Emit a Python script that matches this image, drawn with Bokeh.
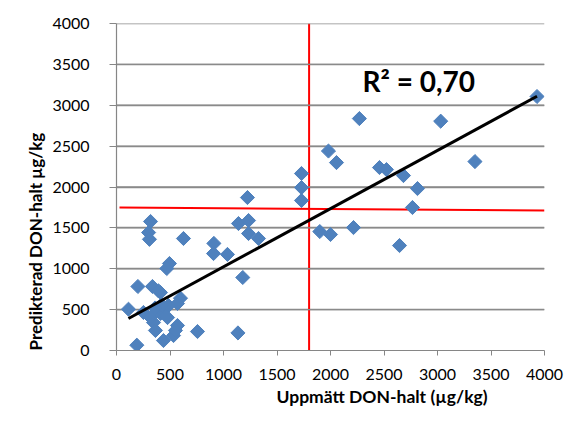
import math
from bokeh.plotting import figure
from bokeh.models import Range1d, Label, FixedTicker, ColumnDataSource, Title
from bokeh.embed import file_html
from bokeh.resources import INLINE

# Measured (x) vs predicted (y) DON content, µg/kg
measured = [112, 190, 200, 318, 300, 308, 336, 411, 495, 470, 626, 598, 570, 252, 346,
            411, 458, 486, 364, 439, 533, 570, 551, 757, 1135, 1180, 910, 907, 1037, 1140,
            1234, 1234, 1327, 1224, 1729, 1729, 1729, 1900, 2000, 2215, 1981, 2056, 2270,
            2458, 2523, 2682, 2813, 2766, 2645, 3030, 3350, 3930,
            392, 318, 383, 477, 420, 360]
predicted = [505, 65, 783, 1578, 1443, 1360, 783, 709, 1064, 1003, 1370, 640, 575, 465, 342,
             452, 514, 550, 245, 122, 183, 306, 245, 232, 215, 893, 1310, 1186, 1175, 1553,
             1590, 1431, 1370, 1871, 2165, 1993, 1835, 1455, 1419, 1504, 2440, 2299, 2837,
             2238, 2213, 2140, 1981, 1749, 1284, 2805, 2311, 3107,
             730, 404, 489, 403, 560, 520]

trend_slope = 0.712
trend_intercept = 312
r2_text = "R² = 0,70"

threshold_x = 1800
threshold_line_x = [28, 4000]
threshold_line_y = [1748, 1712]

ticks = [0, 500, 1000, 1500, 2000, 2500, 3000, 3500, 4000]
x_title = "Uppmätt DON-halt (µg/kg)"
y_title = "Predikterad DON-halt µg/kg"

FONT = "Lato"

p = figure(width=578, height=421, output_backend="svg", toolbar_location=None,
           x_range=Range1d(0, 4000), y_range=Range1d(0, 4000),
           min_border_left=116, min_border_right=34, min_border_top=23, min_border_bottom=71)
p.outline_line_color = None
p.background_fill_color = "white"
p.border_fill_color = "white"

p.xaxis[0].ticker = FixedTicker(ticks=ticks)
p.yaxis[0].ticker = FixedTicker(ticks=ticks)
p.xgrid.visible = False
p.ygrid.grid_line_color = "#8a8a8a"
p.ygrid.grid_line_width = 1.3

for ax in (p.xaxis[0], p.yaxis[0]):
    ax.axis_line_color = "#868686"
    ax.axis_line_width = 1.2
    ax.major_tick_line_color = "#868686"
    ax.major_tick_out = 5
    ax.major_tick_in = 0
    ax.minor_tick_line_color = None
    ax.major_label_text_font = FONT
    ax.major_label_text_font_size = "16px"
    ax.major_label_text_color = "black"
p.xaxis[0].major_label_standoff = 13
p.yaxis[0].major_tick_out = 7
p.yaxis[0].major_label_standoff = 20

# red reference lines
p.line([threshold_x, threshold_x], [0, 4000], line_color="#ff0000", line_width=2)
p.line(threshold_line_x, threshold_line_y, line_color="#ff0000", line_width=2)

# horizontal gridlines (under the markers)
grid_y = ticks[1:]
p.multi_line(xs=[[0, 2000, 4000] for _ in grid_y], ys=[[t, t, t] for t in grid_y],
             line_color="#8a8a8a", line_width=1.3)

src = ColumnDataSource(dict(x=measured, y=predicted))
p.scatter("x", "y", source=src, marker="square", size=10, angle=math.pi / 4,
          fill_color="#4f81bd", line_color="#4f81bd")

# trend line
xmin, xmax = min(measured), max(measured)
p.line([xmin, xmax], [trend_slope * xmin + trend_intercept, trend_slope * xmax + trend_intercept],
       line_color="black", line_width=3)

p.add_layout(Label(x=2300, y=3300, text=r2_text, text_font=FONT, text_font_style="bold",
                   text_font_size="28px", text_baseline="alphabetic", text_color="black"))

p.add_layout(Title(text=x_title, align="left", offset=160, text_font=FONT,
                   text_font_style="bold", text_font_size="17.5px", text_color="black",
                   standoff=2), "below")
p.add_layout(Title(text=y_title, align="left", offset=0, text_font=FONT,
                   text_font_style="bold", text_font_size="17px", text_color="black",
                   standoff=8), "left")

open("out.html", "w").write(file_html(p, INLINE))
